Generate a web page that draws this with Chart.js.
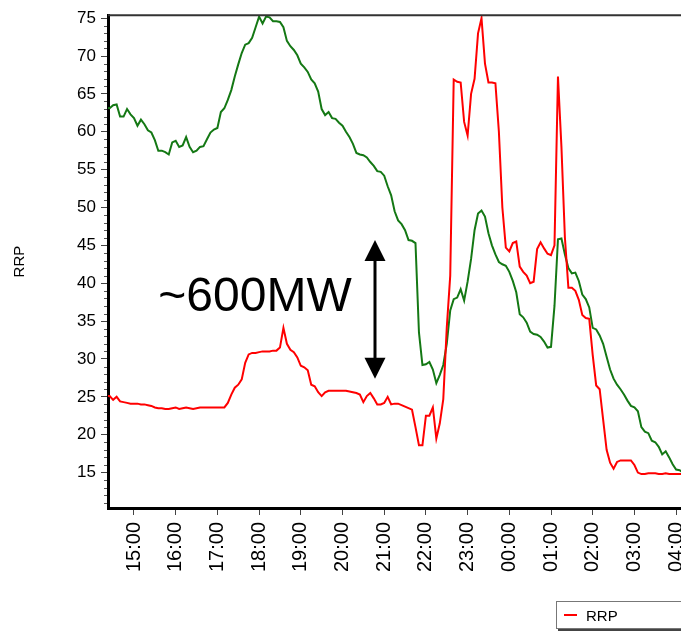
<!DOCTYPE html>
<html>
<head>
<meta charset="utf-8">
<script src="https://cdn.jsdelivr.net/npm/chart.js@4.4.1/dist/chart.umd.min.js"></script>
<style>
  html, body { margin: 0; padding: 0; background: #fff; overflow: hidden; }
  #wrap { position: relative; width: 681px; height: 633px; overflow: hidden; }
  #myChart { position: absolute; left: 0; top: 0; }
  #legend { position: absolute; left: 556px; top: 601px; width: 300px; height: 26px;
            border: 1px solid #777; box-shadow: 2px 2px 0 #444; background: #fff;
            font: 15px "Liberation Sans", Arial, sans-serif; color: #000;
            display: flex; align-items: center; }
  #legend .item { width: 150px; display: flex; align-items: center; }
  #legend .swatch { display: inline-block; width: 13px; height: 2px; margin: 0 9px 0 7px; }
</style>
</head>
<body>
<div id="wrap">
  <canvas id="myChart" width="760" height="633"></canvas>
  <div id="legend"></div>
</div>
<script>
// 5-minute intervals, minutes relative to 15:00, first one at 14:20
var firstInterval = -40;
var intervalMin = 5;

var hourTicks = [0, 60, 120, 180, 240, 300, 360, 420, 480, 540, 600, 660, 720, 780];
var hourLabels = ["15:00", "16:00", "17:00", "18:00", "19:00", "20:00", "21:00",
                  "22:00", "23:00", "00:00", "01:00", "02:00", "03:00", "04:00"];
var yTicks = [15, 20, 25, 30, 35, 40, 45, 50, 55, 60, 65, 70, 75];

var rrp = [
  25.1, 25.1, 24.6, 25.0, 24.4, 24.3, 24.2, 24.1, 24.1, 24.1,
  24.0, 24.0, 23.9, 23.8, 23.6, 23.5, 23.5, 23.4, 23.4, 23.5,
  23.6, 23.4, 23.5, 23.6, 23.5, 23.4, 23.5, 23.6, 23.6, 23.6,
  23.6, 23.6, 23.6, 23.6, 23.6, 24.2, 25.3, 26.2, 26.6, 27.3,
  29.5, 30.6, 30.8, 30.8, 30.9, 31.0, 31.0, 31.0, 31.1, 31.1,
  31.5, 34.1, 32.0, 31.2, 30.9, 30.2, 29.1, 28.9, 28.5, 26.6,
  26.4, 25.6, 25.1, 25.6, 25.8, 25.8, 25.8, 25.8, 25.8, 25.8,
  25.7, 25.6, 25.5, 25.3, 24.3, 25.1, 25.5, 24.8, 24.0, 24.0,
  24.2, 25.0, 24.0, 24.1, 24.1, 23.9, 23.7, 23.5, 23.3, 21.0,
  18.6, 18.6, 22.5, 22.5, 23.6, 19.5, 21.5, 24.7, 34.1, 41.0,
  66.9, 66.6, 66.5, 61.3, 59.5, 65.0, 67.0, 73.0, 75.0, 69.0,
  66.5, 66.5, 66.4, 60.0, 50.0, 44.7, 44.2, 45.3, 45.5, 42.2,
  41.5, 41.0, 40.0, 40.2, 44.5, 45.4, 44.6, 43.9, 43.7, 45.0,
  67.3, 58.0, 46.0, 39.4, 39.4, 39.0, 37.8, 35.8, 35.4, 35.3,
  30.5, 26.5, 26.0, 22.0, 18.0, 16.3, 15.5, 16.4, 16.6, 16.6,
  16.6, 16.6, 16.0, 15.0, 14.8, 14.8, 14.9, 14.9, 14.9, 14.8,
  14.8, 14.9, 14.8, 14.8, 14.8, 14.8, 14.8, 14.8
];

var demand = [
  63.2, 63.1, 63.5, 63.6, 62.0, 62.0, 63.0, 62.3, 61.8, 60.8,
  61.6, 61.0, 60.2, 59.9, 58.9, 57.5, 57.5, 57.3, 57.0, 58.6,
  58.8, 58.0, 58.2, 59.3, 58.0, 57.3, 57.5, 58.0, 58.1, 59.0,
  59.9, 60.3, 60.5, 62.6, 63.1, 64.2, 65.5, 67.3, 68.9, 70.4,
  71.5, 71.7, 72.4, 73.8, 75.2, 74.3, 75.2, 75.1, 74.6, 74.6,
  74.5, 73.8, 72.0, 71.3, 70.8, 70.1, 69.0, 68.5, 67.9, 66.9,
  66.4, 65.3, 63.0, 62.2, 62.6, 61.8, 61.7, 61.2, 60.8, 60.0,
  59.3, 58.4, 57.2, 57.0, 56.9, 56.6, 56.0, 55.5, 54.8, 54.7,
  54.2, 52.8, 51.6, 49.5, 48.3, 47.8, 47.0, 45.7, 45.6, 45.3,
  33.5, 29.2, 29.3, 29.6, 28.6, 26.8, 27.9, 29.2, 32.0, 36.4,
  37.9, 38.1, 39.2, 37.7, 40.2, 43.2, 47.0, 49.2, 49.6, 48.8,
  46.6, 45.0, 43.8, 42.8, 42.5, 42.3, 41.5, 40.3, 38.8, 35.9,
  35.5, 34.8, 33.6, 33.3, 33.2, 32.9, 32.3, 31.5, 31.6, 37.0,
  45.8, 45.9, 43.8, 42.0, 41.3, 41.4, 40.3, 38.5, 37.9, 36.8,
  34.1, 33.9, 33.1, 32.0, 30.3, 28.6, 27.4, 26.6, 26.0, 25.3,
  24.5, 23.8, 23.6, 23.1, 21.0, 20.4, 20.2, 19.2, 19.0, 18.4,
  17.4, 17.8, 17.0, 16.1, 15.4, 15.3, 15.0, 14.8
];

// the "~600MW" note, in chart units (minutes from 15:00, RRP)
var note = { text: "~600MW", textAt: 35, textBase: 36.3, arrowAt: 347, arrowTop: 45.7, arrowBottom: 27.4 };

function points(values) {
  return values.map(function (v, i) {
    return { x: firstInterval + i * intervalMin, y: v };
  });
}

var frame = {
  id: "frame",
  afterDraw: function (chart) {
    var ctx = chart.ctx, a = chart.chartArea;
    var xs = chart.scales.x, ys = chart.scales.y;
    ctx.save();

    // top border
    ctx.strokeStyle = "#333";
    ctx.lineWidth = 2;
    ctx.beginPath();
    ctx.moveTo(a.left, a.top);
    ctx.lineTo(a.right, a.top);
    ctx.stroke();

    // minor ticks on the RRP axis
    ctx.strokeStyle = "#555";
    ctx.lineWidth = 1;
    for (var v = Math.ceil(ys.min); v <= ys.max; v++) {
      if (v % 5 === 0) continue;
      var py = Math.round(ys.getPixelForValue(v)) + 0.5;
      ctx.beginPath();
      ctx.moveTo(a.left - 4, py);
      ctx.lineTo(a.left - 1, py);
      ctx.stroke();
    }

    // annotation text
    ctx.fillStyle = "#000";
    ctx.font = '48px "Liberation Sans", Arial, sans-serif';
    ctx.textBaseline = "alphabetic";
    ctx.fillText(note.text, xs.getPixelForValue(note.textAt), ys.getPixelForValue(note.textBase));

    // double arrow
    var ax = Math.round(xs.getPixelForValue(note.arrowAt));
    var top = ys.getPixelForValue(note.arrowTop);
    var bot = ys.getPixelForValue(note.arrowBottom);
    var head = 21, half = 10.5;
    ctx.lineWidth = 3;
    ctx.strokeStyle = "#000";
    ctx.beginPath();
    ctx.moveTo(ax, top + head - 2);
    ctx.lineTo(ax, bot - head + 2);
    ctx.stroke();
    ctx.beginPath();
    ctx.moveTo(ax, top);
    ctx.lineTo(ax + half, top + head);
    ctx.lineTo(ax - half, top + head);
    ctx.closePath();
    ctx.fill();
    ctx.beginPath();
    ctx.moveTo(ax, bot);
    ctx.lineTo(ax + half, bot - head);
    ctx.lineTo(ax - half, bot - head);
    ctx.closePath();
    ctx.fill();

    ctx.restore();
  }
};

var chart = new Chart(document.getElementById("myChart").getContext("2d"), {
  type: "line",
  data: {
    datasets: [
      {
        label: "RRP",
        data: points(rrp),
        borderColor: "#ff0000",
        borderWidth: 2,
        pointRadius: 0,
        tension: 0,
        fill: false
      },
      {
        label: "Demand",
        data: points(demand),
        borderColor: "#147814",
        borderWidth: 2,
        pointRadius: 0,
        tension: 0,
        fill: false
      }
    ]
  },
  options: {
    responsive: false,
    animation: false,
    devicePixelRatio: 1,
    layout: { padding: { top: 12, right: 10, left: 0, bottom: 0 } },
    plugins: {
      legend: { display: false },
      tooltip: { enabled: false }
    },
    scales: {
      x: {
        type: "linear",
        min: -37.4,
        max: 886.3,
        afterFit: function (s) { s.height = 125; },
        afterBuildTicks: function (s) {
          s.ticks = hourTicks.map(function (v) { return { value: v }; });
        },
        ticks: {
          autoSkip: false,
          minRotation: 90,
          maxRotation: 90,
          padding: 7,
          color: "#000",
          font: { family: '"Liberation Sans", Arial, sans-serif', size: 20 },
          callback: function (value, index) { return hourLabels[index]; }
        },
        grid: { drawOnChartArea: false, drawTicks: true, tickLength: 7, tickColor: "#444" },
        border: { display: true, color: "#000", width: 3 }
      },
      y: {
        min: 10.32,
        max: 75.39,
        afterFit: function (s) { s.width = 108; },
        afterBuildTicks: function (s) {
          s.ticks = yTicks.map(function (v) { return { value: v }; });
        },
        ticks: {
          padding: 5,
          color: "#000",
          font: { family: '"Liberation Sans", Arial, sans-serif', size: 17 }
        },
        grid: { drawOnChartArea: false, drawTicks: true, tickLength: 7, tickColor: "#444" },
        border: { display: true, color: "#000", width: 3 },
        title: {
          display: true,
          text: "RRP",
          color: "#000",
          padding: { top: 11, bottom: 0 },
          font: { family: '"Liberation Sans", Arial, sans-serif', size: 15 }
        }
      }
    }
  },
  plugins: [frame]
});

// legend box under the plot, built from the datasets
var legendBox = document.getElementById("legend");
chart.data.datasets.forEach(function (ds) {
  var item = document.createElement("span");
  item.className = "item";
  var sw = document.createElement("span");
  sw.className = "swatch";
  sw.style.background = ds.borderColor;
  item.appendChild(sw);
  item.appendChild(document.createTextNode(ds.label));
  legendBox.appendChild(item);
});
</script>
</body>
</html>
